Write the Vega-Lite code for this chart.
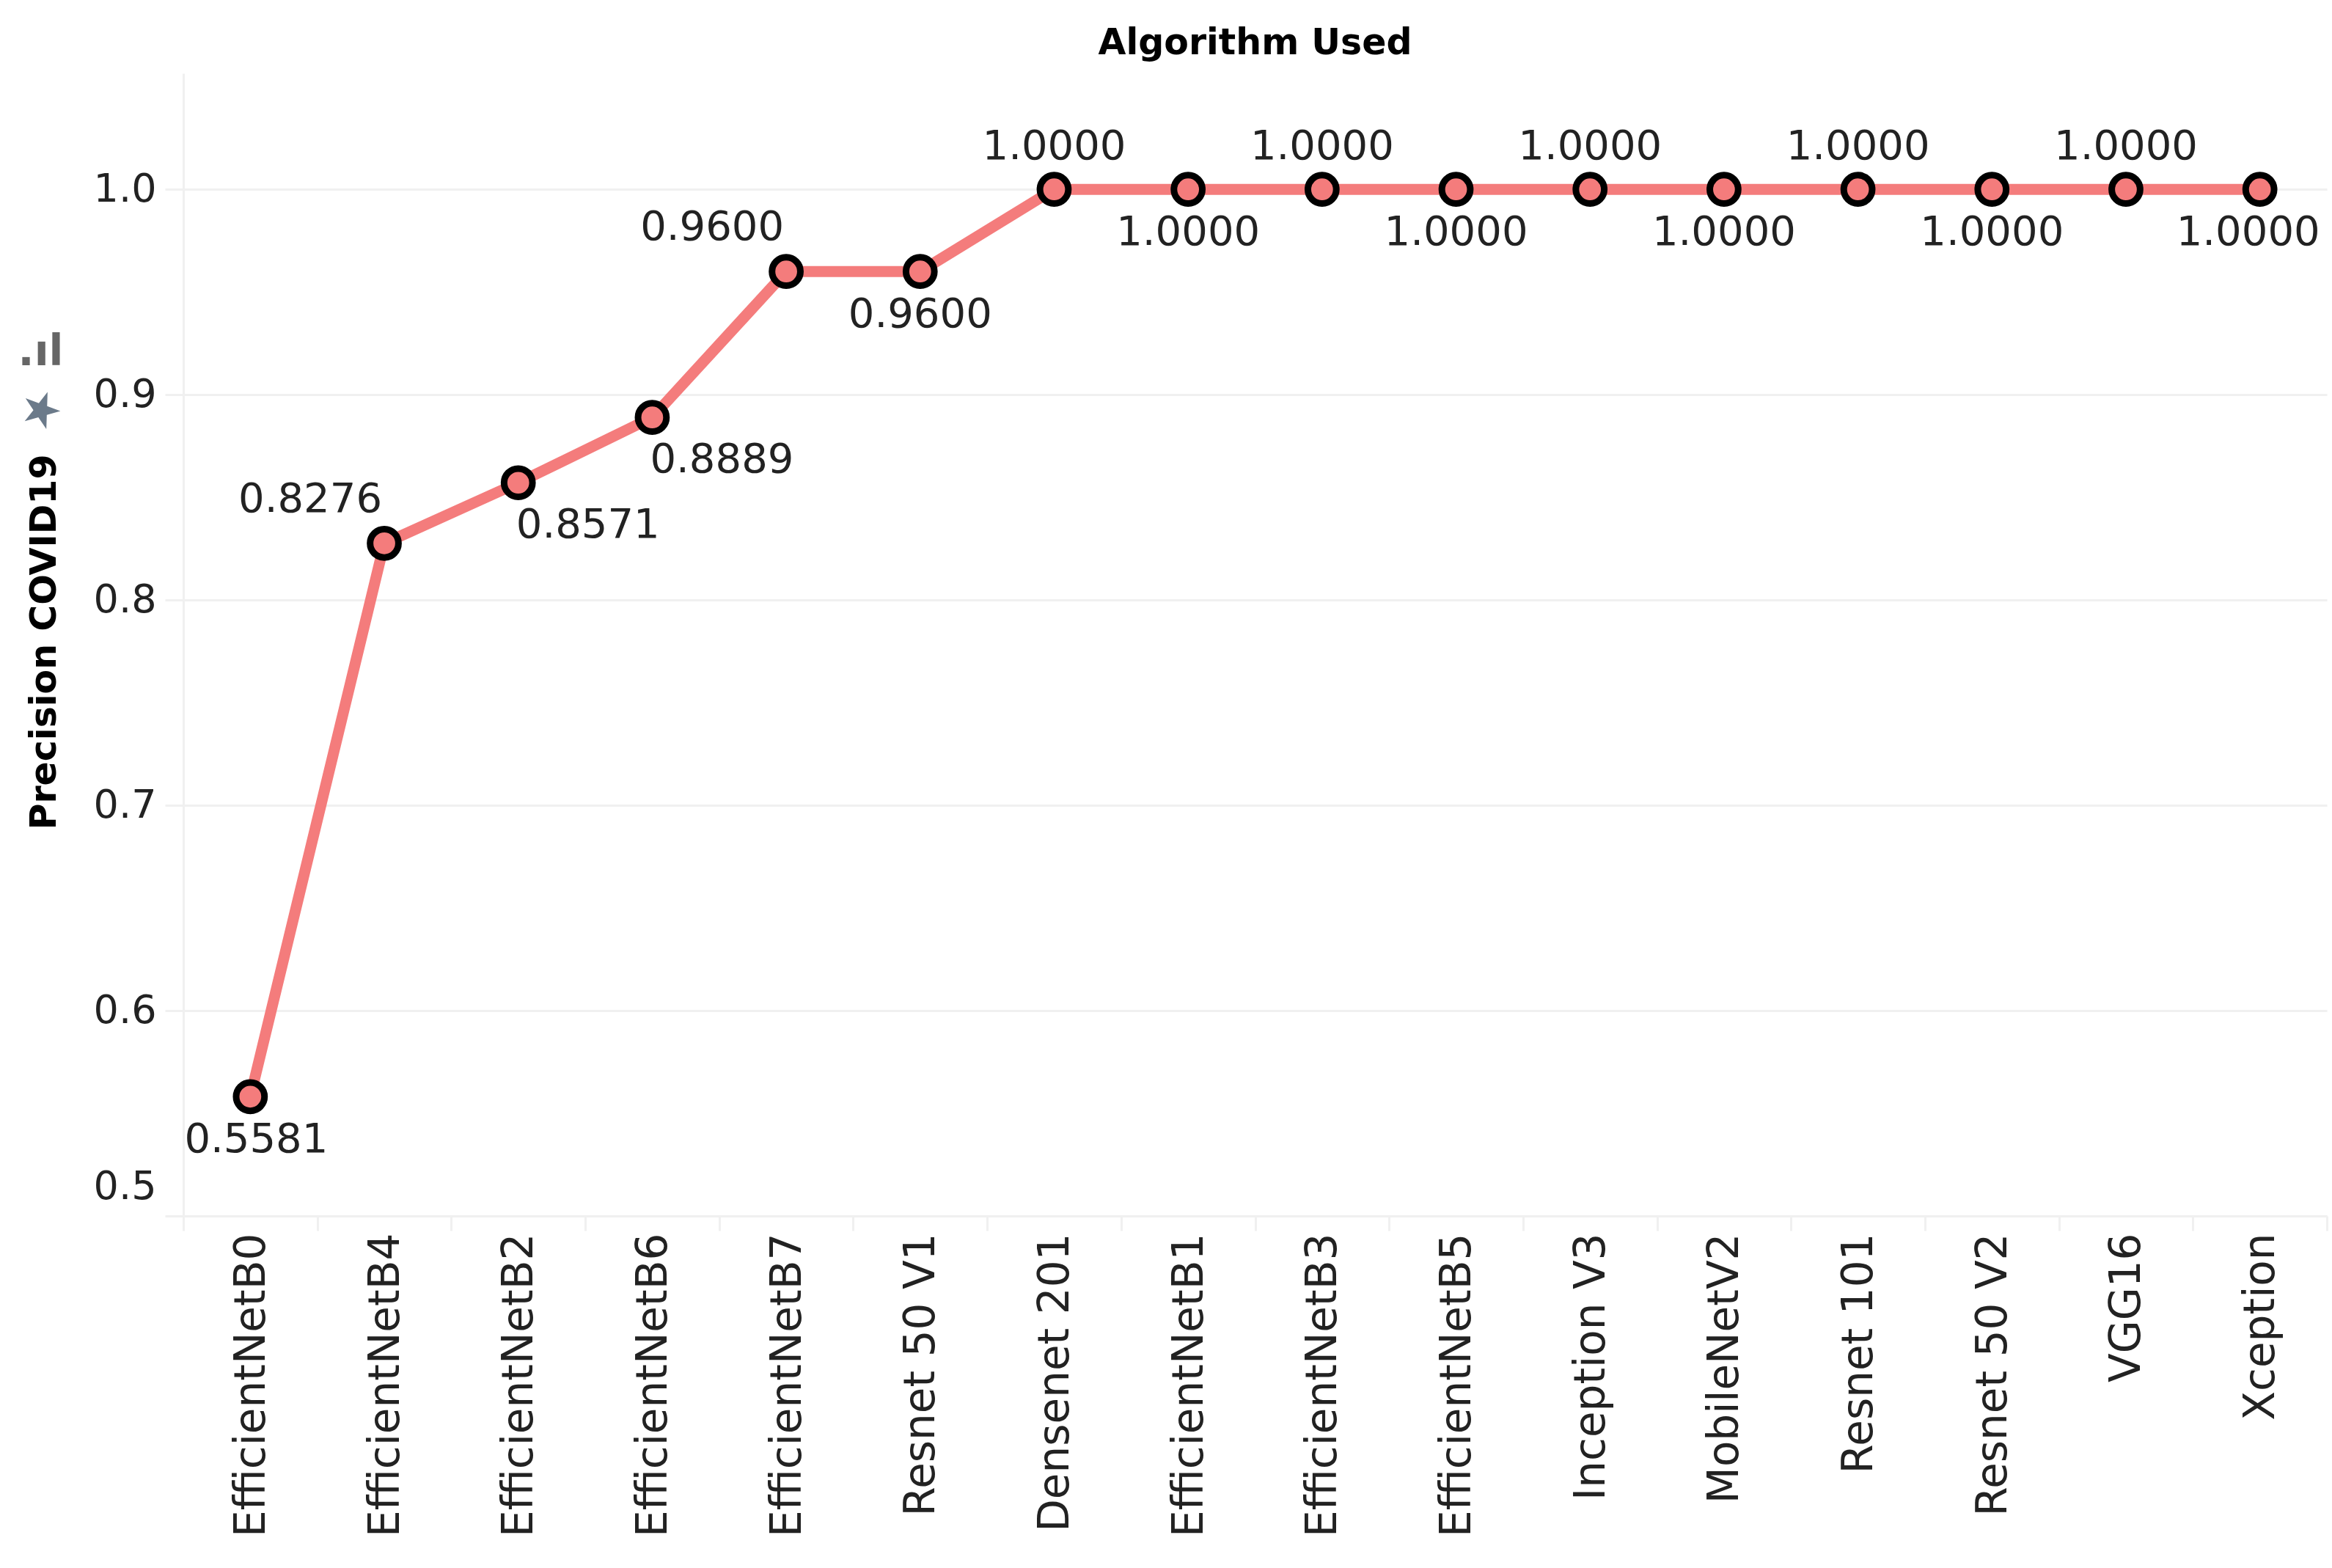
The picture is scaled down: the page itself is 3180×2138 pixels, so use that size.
{
  "$schema": "https://vega.github.io/schema/vega-lite/v6.json",
  "title": {
    "text": "Algorithm Used",
    "font": "DejaVu Sans",
    "fontSize": 49,
    "fontWeight": "bold",
    "color": "#000000",
    "anchor": "middle",
    "offset": 16
  },
  "width": 2923,
  "height": 1558,
  "autosize": "none",
  "padding": {"left": 250, "top": 100, "right": 7, "bottom": 480},
  "background": "#ffffff",
  "view": {"stroke": null},
  "data": {
    "values": [
      {"algorithm": "EfficientNetB0", "precision": 0.5581},
      {"algorithm": "EfficientNetB4", "precision": 0.8276},
      {"algorithm": "EfficientNetB2", "precision": 0.8571},
      {"algorithm": "EfficientNetB6", "precision": 0.8889},
      {"algorithm": "EfficientNetB7", "precision": 0.96},
      {"algorithm": "Resnet 50 V1", "precision": 0.96},
      {"algorithm": "Densenet 201", "precision": 1.0},
      {"algorithm": "EfficientNetB1", "precision": 1.0},
      {"algorithm": "EfficientNetB3", "precision": 1.0},
      {"algorithm": "EfficientNetB5", "precision": 1.0},
      {"algorithm": "Inception V3", "precision": 1.0},
      {"algorithm": "MobileNetV2", "precision": 1.0},
      {"algorithm": "Resnet 101", "precision": 1.0},
      {"algorithm": "Resnet 50 V2", "precision": 1.0},
      {"algorithm": "VGG16", "precision": 1.0},
      {"algorithm": "Xception", "precision": 1.0}
    ]
  },
  "encoding": {
    "x": {
      "field": "algorithm",
      "type": "nominal",
      "sort": null,
      "scale": {"type": "band", "paddingInner": 0, "paddingOuter": 0},
      "axis": {
        "title": null,
        "labelAngle": -90,
        "labelFont": "DejaVu Sans",
        "labelFontSize": 58,
        "labelColor": "#222222",
        "labelPadding": 3,
        "labelOffset": 2,
        "labelOverlap": false,
        "labelLimit": 600,
        "domainColor": "#f0f0f0",
        "domainWidth": 3,
        "tickColor": "#f0f0f0",
        "tickWidth": 3,
        "tickSize": 20,
        "tickBand": "extent",
        "grid": false
      }
    },
    "y": {
      "field": "precision",
      "type": "quantitative",
      "scale": {"domain": [0.5, 1.0565], "nice": false, "zero": false},
      "axis": null
    }
  },
  "resolve": {"axis": {"y": "independent"}},
  "layer": [
    {
      "mark": {"type": "line", "color": "#f47c7c", "strokeWidth": 15},
      "encoding": {
        "y": {
          "field": "precision",
          "type": "quantitative",
          "scale": {"domain": [0.5, 1.0565], "nice": false, "zero": false},
          "axis": {
            "title": "Precision COVID19",
            "titleFont": "DejaVu Sans",
            "titleFontSize": 49,
            "titleFontWeight": "bold",
            "titleColor": "#000000",
            "titleX": -165,
            "titleY": 775,
            "values": [0.5, 0.6, 0.7, 0.8, 0.9, 1.0],
            "format": ".1f",
            "labelFont": "DejaVu Sans",
            "labelFontSize": 54,
            "labelColor": "#222222",
            "labelPadding": 12,
            "labelFlush": true,
            "labelFlushOffset": -13,
            "domainColor": "#f0f0f0",
            "domainWidth": 3,
            "tickColor": "#f0f0f0",
            "tickWidth": 3,
            "tickSize": 25,
            "grid": true,
            "gridColor": "#f0f0f0",
            "gridWidth": 3
          }
        }
      }
    },
    {
      "mark": {"type": "line", "opacity": 0},
      "encoding": {
        "y": {
          "field": "precision",
          "type": "quantitative",
          "scale": {"domain": [0.5, 1.0565], "nice": false, "zero": false},
          "axis": {
            "orient": "left",
            "title": "★",
            "titleFont": "DejaVu Sans",
            "titleFontSize": 66,
            "titleFontWeight": "normal",
            "titleColor": "#6b7a8a",
            "titleAngle": 20,
            "titleAlign": "center",
            "titleBaseline": "middle",
            "titleX": -195,
            "titleY": 460,
            "domain": false,
            "labels": false,
            "ticks": false,
            "grid": false
          }
        }
      }
    },
    {
      "mark": {"type": "line", "opacity": 0},
      "encoding": {
        "y": {
          "field": "precision",
          "type": "quantitative",
          "scale": {"domain": [0.5, 1.0565], "nice": false, "zero": false},
          "axis": {
            "orient": "left",
            "title": ".ıl",
            "titleFont": "DejaVu Sans",
            "titleFontSize": 58,
            "titleFontWeight": "bold",
            "titleColor": "#666666",
            "titleAngle": 0,
            "titleAlign": "center",
            "titleBaseline": "alphabetic",
            "titleX": -195,
            "titleY": 397,
            "domain": false,
            "labels": false,
            "ticks": false,
            "grid": false
          }
        }
      }
    },
    {
      "mark": {"type": "point", "filled": false, "opacity": 1, "fill": "#f47c7c", "stroke": "#000000", "strokeWidth": 9, "size": 1500}
    },
    {
      "transform": [{"filter": {"field": "algorithm", "oneOf": ["Densenet 201", "EfficientNetB3", "Inception V3", "Resnet 101", "VGG16"]}}],
      "mark": {"type": "text", "font": "DejaVu Sans", "fontSize": 56, "color": "#222222", "dy": -58},
      "encoding": {"text": {"field": "precision", "type": "quantitative", "format": ".4f"}}
    },
    {
      "transform": [{"filter": {"field": "algorithm", "oneOf": ["Resnet 50 V1", "EfficientNetB1", "EfficientNetB5", "MobileNetV2", "Resnet 50 V2"]}}],
      "mark": {"type": "text", "font": "DejaVu Sans", "fontSize": 56, "color": "#222222", "dy": 59},
      "encoding": {"text": {"field": "precision", "type": "quantitative", "format": ".4f"}}
    },
    {
      "transform": [{"filter": {"field": "algorithm", "oneOf": ["EfficientNetB4", "EfficientNetB7"]}}],
      "mark": {"type": "text", "font": "DejaVu Sans", "fontSize": 56, "color": "#222222", "dx": -101, "dy": -60},
      "encoding": {"text": {"field": "precision", "type": "quantitative", "format": ".4f"}}
    },
    {
      "transform": [{"filter": {"field": "algorithm", "oneOf": ["EfficientNetB2", "EfficientNetB6"]}}],
      "mark": {"type": "text", "font": "DejaVu Sans", "fontSize": 56, "color": "#222222", "dx": 95, "dy": 58},
      "encoding": {"text": {"field": "precision", "type": "quantitative", "format": ".4f"}}
    },
    {
      "transform": [{"filter": {"field": "algorithm", "equal": "EfficientNetB0"}}],
      "mark": {"type": "text", "font": "DejaVu Sans", "fontSize": 56, "color": "#222222", "dx": 8, "dy": 59},
      "encoding": {"text": {"field": "precision", "type": "quantitative", "format": ".4f"}}
    },
    {
      "transform": [{"filter": {"field": "algorithm", "equal": "Xception"}}],
      "mark": {"type": "text", "font": "DejaVu Sans", "fontSize": 56, "color": "#222222", "dx": -16, "dy": 59},
      "encoding": {"text": {"field": "precision", "type": "quantitative", "format": ".4f"}}
    }
  ],
  "config": {}
}
